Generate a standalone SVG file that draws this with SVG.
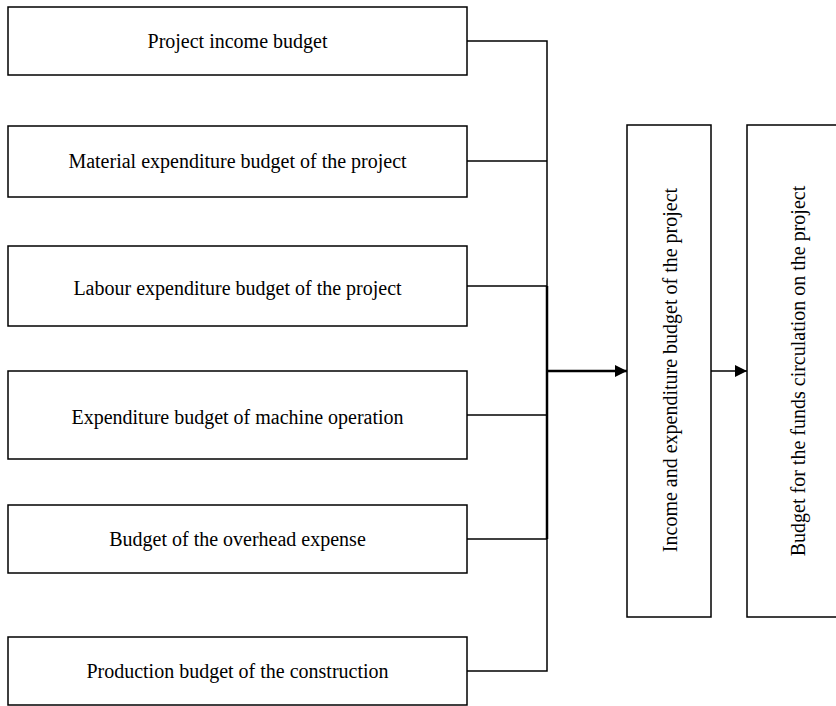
<svg xmlns="http://www.w3.org/2000/svg" width="836" height="706" viewBox="0 0 836 706">
<style>
.box{fill:#fff;stroke:#000;stroke-width:1.5}
.t{font-family:"Liberation Serif","Times New Roman",serif;font-size:20px;fill:#000;text-anchor:middle}
.c{fill:none;stroke:#000;stroke-width:1.5}
.ct{fill:none;stroke:#000;stroke-width:2.5}
</style>
<defs>
<marker id="ah" markerWidth="12" markerHeight="12" viewBox="0 0 12 12" refX="12" refY="6" orient="auto" markerUnits="userSpaceOnUse">
<path d="M0,0 L12,6 L0,12 Z" fill="#000"/>
</marker>
</defs>
<rect width="836" height="706" fill="#fff"/>
<g id="connectors">
<polyline class="c" points="467,41 547,41 547,286"/>
<line class="c" x1="467" y1="161" x2="547" y2="161"/>
<line class="c" x1="467" y1="286" x2="547" y2="286"/>
<line class="ct" x1="547" y1="286" x2="547" y2="539"/>
<line class="c" x1="467" y1="415" x2="547" y2="415"/>
<line class="c" x1="467" y1="539" x2="547" y2="539"/>
<polyline class="c" points="547,539 547,671 467,671"/>
<line class="ct" x1="547" y1="371" x2="627" y2="371" marker-end="url(#ah)"/>
<line class="c" x1="711" y1="371" x2="747" y2="371" marker-end="url(#ah)"/>
</g>
<g id="n1"><rect class="box" x="8" y="7" width="459" height="68"/><text class="t" x="237.5" y="48">Project income budget</text></g>
<g id="n2"><rect class="box" x="8" y="126" width="459" height="71"/><text class="t" x="237.5" y="168">Material expenditure budget of the project</text></g>
<g id="n3"><rect class="box" x="8" y="246" width="459" height="80"/><text class="t" x="237.5" y="295">Labour expenditure budget of the project</text></g>
<g id="n4"><rect class="box" x="8" y="371" width="459" height="88"/><text class="t" x="237.5" y="424">Expenditure budget of machine operation</text></g>
<g id="n5"><rect class="box" x="8" y="505" width="459" height="68"/><text class="t" x="237.5" y="546">Budget of the overhead expense</text></g>
<g id="n6"><rect class="box" x="8" y="637" width="459" height="68"/><text class="t" x="237.5" y="678">Production budget of the construction</text></g>
<g id="n7"><rect class="box" x="627" y="125" width="84" height="492"/><text class="t" transform="translate(677,370) rotate(-90)">Income and expenditure budget of the project</text></g>
<g id="n8"><rect class="box" x="747" y="125" width="100" height="492"/><text class="t" transform="translate(805,371) rotate(-90)">Budget for the funds circulation on the project</text></g>
</svg>
